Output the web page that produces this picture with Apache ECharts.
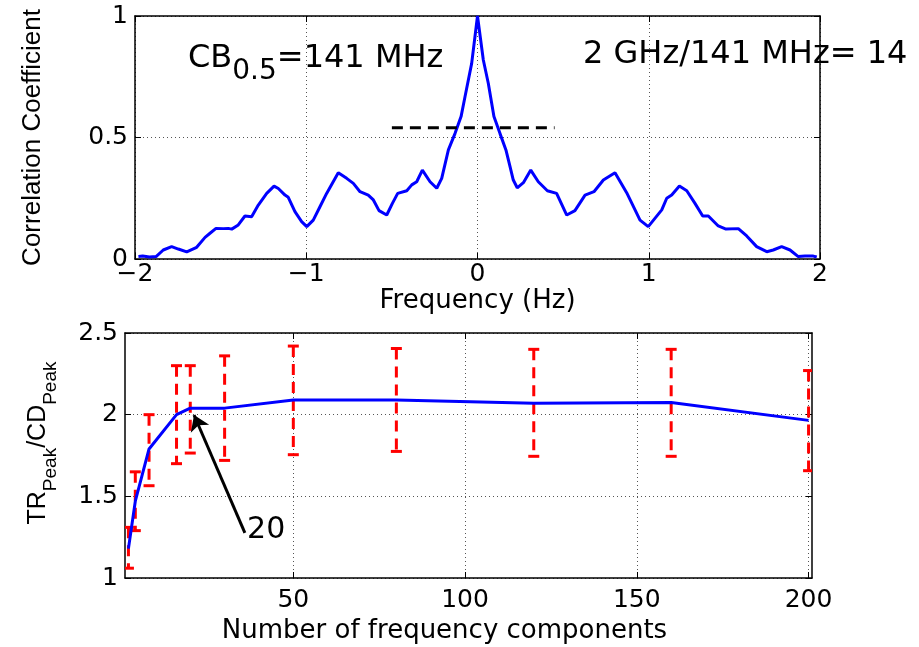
<!DOCTYPE html>
<html>
<head>
<meta charset="utf-8">
<script src="https://cdn.jsdelivr.net/npm/echarts@6/dist/echarts.min.js"></script>
<style>
  html, body { margin: 0; padding: 0; background: #fff; }
  #chart { width: 919px; height: 647px; }
</style>
</head>
<body>
<div id="chart"></div>
<script>
// top panel: correlation coefficient vs frequency offset
const freqHz = [-1.98, -1.955, -1.916, -1.877, -1.835, -1.786, -1.747, -1.698, -1.64, -1.591,
  -1.562, -1.527, -1.484, -1.455, -1.435, -1.397, -1.358, -1.319, -1.28, -1.231,
  -1.188, -1.163, -1.124, -1.105, -1.066, -1.027, -0.997, -0.959, -0.92, -0.881,
  -0.813, -0.764, -0.725, -0.686, -0.638, -0.608, -0.575, -0.53, -0.497, -0.466,
  -0.413, -0.384, -0.355, -0.322, -0.277, -0.238, -0.209, -0.17, -0.131, -0.096,
  -0.073, -0.034, 0, 0.034, 0.063, 0.096, 0.131, 0.166, 0.19, 0.209,
  0.232, 0.268, 0.311, 0.355, 0.408, 0.462, 0.521, 0.569, 0.628, 0.68,
  0.735, 0.803, 0.871, 0.92, 0.949, 0.997, 1.036, 1.076, 1.105, 1.134,
  1.179, 1.222, 1.27, 1.315, 1.348, 1.406, 1.451, 1.523, 1.572, 1.63,
  1.689, 1.727, 1.776, 1.825, 1.873, 1.912, 1.961, 1.981]
const corrCoef = [0.01, 0.012, 0.008, 0.01, 0.037, 0.051, 0.041, 0.029, 0.048, 0.089,
  0.106, 0.126, 0.125, 0.126, 0.123, 0.14, 0.177, 0.174, 0.222, 0.27,
  0.30, 0.29, 0.263, 0.254, 0.195, 0.154, 0.133, 0.16, 0.215, 0.27,
  0.355, 0.332, 0.311, 0.277, 0.263, 0.243, 0.199, 0.181, 0.229, 0.27,
  0.281, 0.305, 0.318, 0.366, 0.318, 0.291, 0.332, 0.449, 0.517, 0.586,
  0.668, 0.805, 1.0, 0.819, 0.723, 0.586, 0.517, 0.449, 0.38, 0.325,
  0.293, 0.314, 0.366, 0.318, 0.281, 0.27, 0.181, 0.199, 0.263, 0.277,
  0.325, 0.355, 0.273, 0.202, 0.16, 0.133, 0.167, 0.202, 0.25, 0.263,
  0.30, 0.281, 0.229, 0.177, 0.177, 0.136, 0.123, 0.125, 0.095, 0.051,
  0.03, 0.037, 0.051, 0.037, 0.01, 0.012, 0.012, 0.008]
const halfLevelX = [-0.5, 0.45]
const halfLevel = 0.54

// bottom panel: peak ratio vs number of frequency components
const nComponents = [2, 4, 8, 16, 20, 30, 50, 80, 120, 160, 200]
const ratioMean = [1.18, 1.47, 1.79, 2.0, 2.04, 2.04, 2.09, 2.09, 2.07, 2.075, 1.965]
const ratioLow = [1.06, 1.29, 1.565, 1.70, 1.765, 1.72, 1.755, 1.775, 1.745, 1.745, 1.657]
const ratioHigh = [1.31, 1.65, 2.0, 2.30, 2.30, 2.36, 2.42, 2.405, 2.40, 2.40, 2.27]
const bottomTicks = [50, 100, 150, 200]

const arrowFrom = [35.9, 1.276]
const arrowTo = [21.1, 1.998]

const FONT = 'DejaVu Sans'
const VFONT = 'Liberation Sans'
const minus = v => (v < 0 ? '\u2212' + (-v) : String(v))

const gridLine = { show: true, lineStyle: { color: '#555', type: [1, 3], width: 1 } }
const boxLine = { show: true, onZero: false, lineStyle: { color: '#000', width: 1.5 } }
const tick = { show: true, inside: true, length: 6, lineStyle: { color: '#000', width: 1 } }

var myChart = echarts.init(document.getElementById('chart'))

myChart.setOption({
  backgroundColor: '#fff',
  animation: false,
  grid: [
    { left: 135, right: 99, top: 16, bottom: 388 },
    { left: 125, right: 107, top: 333, bottom: 69 }
  ],
  xAxis: [
    {
      type: 'value', gridIndex: 0, min: -2, max: 2, interval: 1,
      axisLine: boxLine, axisTick: tick, splitLine: gridLine,
      axisLabel: { formatter: minus, fontFamily: FONT, fontSize: 25, color: '#000', margin: 3 },
      name: 'Frequency (Hz)', nameLocation: 'middle', nameGap: 27,
      nameTextStyle: { fontFamily: FONT, fontSize: 26, color: '#000', verticalAlign: 'top' }
    },
    {
      type: 'value', gridIndex: 0, position: 'top', min: -2, max: 2, interval: 1,
      axisLine: boxLine, axisTick: tick, axisLabel: { show: false }, splitLine: { show: false }
    },
    {
      type: 'value', gridIndex: 1, min: 1, max: 201,
      axisLine: boxLine,
      axisTick: Object.assign({}, tick, { customValues: bottomTicks }),
      splitLine: gridLine,
      axisLabel: { customValues: bottomTicks, fontFamily: FONT, fontSize: 25, color: '#000', margin: 10 },
      name: 'Number of frequency components', nameLocation: 'middle', nameGap: 40,
      nameTextStyle: { fontFamily: FONT, fontSize: 26, color: '#000', verticalAlign: 'top', padding: [0, 48, 0, 0] }
    },
    {
      type: 'value', gridIndex: 1, position: 'top', min: 1, max: 201,
      axisLine: boxLine,
      axisTick: Object.assign({}, tick, { customValues: bottomTicks }),
      axisLabel: { show: false }, splitLine: { show: false }
    }
  ],
  yAxis: [
    {
      type: 'value', gridIndex: 0, min: 0, max: 1, interval: 0.5,
      axisLine: boxLine, axisTick: tick, splitLine: gridLine,
      axisLabel: { fontFamily: FONT, fontSize: 25, color: '#000', margin: 7 },
      name: 'Correlation Coefficient', nameLocation: 'middle', nameGap: 89, nameRotate: 90,
      nameTextStyle: { fontFamily: VFONT, fontSize: 26, color: '#000' }
    },
    {
      type: 'value', gridIndex: 0, position: 'right', min: 0, max: 1, interval: 0.5,
      axisLine: boxLine, axisTick: tick, axisLabel: { show: false }, splitLine: { show: false }
    },
    {
      type: 'value', gridIndex: 1, min: 1, max: 2.5, interval: 0.5,
      axisLine: boxLine, axisTick: tick, splitLine: gridLine,
      axisLabel: { fontFamily: FONT, fontSize: 25, color: '#000', margin: 7 },
      name: '{m|TR}{s|Peak}{m|/CD}{s|Peak}', nameLocation: 'middle', nameGap: 74, nameRotate: 90,
      nameTextStyle: {
        color: '#000',
        padding: [0, 0, 0, 25],
        rich: {
          m: { fontFamily: VFONT, fontSize: 25, lineHeight: 25, verticalAlign: 'top', color: '#000' },
          s: { fontFamily: VFONT, fontSize: 19, lineHeight: 19, verticalAlign: 'top', padding: [15, 0, 0, 0], color: '#000' }
        }
      }
    },
    {
      type: 'value', gridIndex: 1, position: 'right', min: 1, max: 2.5, interval: 0.5,
      axisLine: boxLine, axisTick: tick, axisLabel: { show: false }, splitLine: { show: false }
    }
  ],
  series: [
    {
      name: 'correlation',
      type: 'line', xAxisIndex: 0, yAxisIndex: 0,
      data: freqHz.map((f, i) => [f, corrCoef[i]]),
      showSymbol: false, symbol: 'none',
      lineStyle: { color: '#0000ff', width: 3 },
      z: 3
    },
    {
      name: 'half level',
      type: 'line', xAxisIndex: 0, yAxisIndex: 0,
      data: halfLevelX.map(f => [f, halfLevel]),
      symbol: 'none',
      lineStyle: { color: '#000', width: 3, type: [11, 7] },
      z: 4
    },
    {
      name: 'error bars',
      type: 'custom', xAxisIndex: 2, yAxisIndex: 2,
      clip: true,
      data: nComponents.map((n, i) => [n, ratioLow[i], ratioHigh[i]]),
      renderItem: (params, api) => {
        const x = api.value(0)
        const top = api.coord([x, api.value(2)])
        const bot = api.coord([x, api.value(1)])
        const w = 5.5
        const red = '#ff0000'
        return {
          type: 'group',
          children: [
            { type: 'line', shape: { x1: top[0], y1: top[1], x2: bot[0], y2: bot[1] },
              style: { stroke: red, lineWidth: 3, lineDash: [11, 7] } },
            { type: 'line', shape: { x1: top[0] - w, y1: top[1], x2: top[0] + w, y2: top[1] },
              style: { stroke: red, lineWidth: 3 } },
            { type: 'line', shape: { x1: bot[0] - w, y1: bot[1], x2: bot[0] + w, y2: bot[1] },
              style: { stroke: red, lineWidth: 3 } }
          ]
        }
      },
      z: 2
    },
    {
      name: 'ratio',
      type: 'line', xAxisIndex: 2, yAxisIndex: 2,
      data: nComponents.map((n, i) => [n, ratioMean[i]]),
      symbol: 'none',
      lineStyle: { color: '#0000ff', width: 3 },
      z: 3,
      markLine: {
        silent: true,
        symbol: ['none', 'arrow'],
        symbolSize: 15,
        label: { show: false },
        lineStyle: { color: '#000', width: 3, type: 'solid' },
        data: [[{ coord: arrowFrom }, { coord: arrowTo }]]
      },
      markPoint: {
        silent: true,
        symbol: 'circle',
        symbolSize: 1,
        itemStyle: { color: 'rgba(0,0,0,0)' },
        label: { show: true, position: 'right', distance: 0, formatter: '20', fontFamily: FONT, fontSize: 30, color: '#000' },
        data: [{ coord: [36.4, 1.294] }]
      }
    }
  ],
  graphic: [
    {
      type: 'text', left: 188, top: 43, z: 10,
      style: {
        text: '{m|CB}{s|0.5}{m|=141 MHz}',
        rich: {
          m: { fontFamily: FONT, fontSize: 32, lineHeight: 32, verticalAlign: 'top', fill: '#000' },
          s: { fontFamily: FONT, fontSize: 28, lineHeight: 28, verticalAlign: 'top', padding: [15, 0, 0, 0], fill: '#000' }
        }
      }
    },
    {
      type: 'text', left: 583, top: 39, z: 10,
      style: { text: '2 GHz/141 MHz= 14', fontFamily: FONT, fontSize: 32, fill: '#000' }
    }
  ]
})
</script>
</body>
</html>
